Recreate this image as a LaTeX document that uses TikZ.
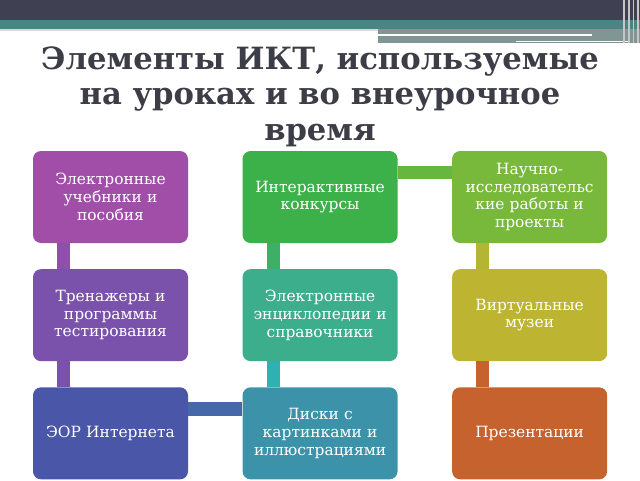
\documentclass[tikz,border=0pt]{standalone}
\usepackage{fontspec}
\setmainfont{DejaVu Serif}
\usepackage{tikz}
\usetikzlibrary{positioning}

\definecolor{hdrdark}{HTML}{3F4052}
\definecolor{hdrteal}{HTML}{4B8483}
\definecolor{hdrgray}{HTML}{819595}
\definecolor{titlegray}{HTML}{3C3D47}
\definecolor{cPurple}{HTML}{A04EA8}
\definecolor{cViolet}{HTML}{7B52AB}
\definecolor{cBlue}{HTML}{4A56A8}
\definecolor{cGreen}{HTML}{3CB14A}
\definecolor{cSea}{HTML}{3DAE8C}
\definecolor{cTeal}{HTML}{3C93A9}
\definecolor{cLime}{HTML}{78B83B}
\definecolor{cOlive}{HTML}{BDB532}
\definecolor{cOrange}{HTML}{C6622D}

\begin{document}
\begin{tikzpicture}[
            box/.style = {rounded corners = 0.2cm, % card corners
                minimum width = 3.875cm, minimum height = 2.3cm,
                text width = 3.55cm, align = center, text = white,
                font = \fontsize{11}{12.6}\selectfont},
            link/.style = {line width = 0.33cm}, % thick bar between cards
            node distance = 0.64cm and 1.35cm
        ]

        \useasboundingbox (0,0) rectangle (16,12);

        % header strip
        \fill[hdrdark] (0,12) rectangle (16,11.5);
        \fill[hdrteal] (0,11.5) rectangle (16,11.275);
        \fill[gray!30] (0,11.275) rectangle (9.45,11.22);
        \fill[hdrgray] (9.45,11.275) rectangle (16,10.925);
        \draw[white, line width = 0.9pt] (9.45,11.125) -- (14.8,11.125);
        \draw[white, line width = 0.9pt] (12.9,10.96) -- (15.7,10.96);
        \foreach \xs in {15.6, 15.72, 15.84, 15.95}
            \draw[gray!45, line width = 1.2pt] (\xs,12) -- (\xs,10.925);

        \node[font = \fontsize{21.8}{25.5}\selectfont\bfseries, text = titlegray,
              align = center] (title) at (8,9.58)
            {Элементы ИКТ, используемые\\на уроках и во внеурочное\\время};

        % cards
        \node[box, fill = cPurple] (uchebn) at (2.7625,7.075)
            {Электронные\\учебники и\\пособия};
        \node[box, fill = cGreen] (konkurs) [right = of uchebn]
            {Интерактивные\\конкурсы};
        \node[box, fill = cLime] (nauch) [right = of konkurs]
            {Научно-\\исследовательс\\кие работы и\\проекты};

        \node[box, fill = cViolet] (tren) [below = of uchebn]
            {Тренажеры и\\программы\\тестирования};
        \node[box, fill = cSea] (encikl) [below = of konkurs]
            {Электронные\\энциклопедии и\\справочники};
        \node[box, fill = cOlive] (muzei) [below = of nauch]
            {Виртуальные\\музеи};

        \node[box, fill = cBlue] (eor) [below = of tren]
            {ЭОР Интернета};
        \node[box, fill = cTeal] (diski) [below = of encikl]
            {Диски с\\картинками и\\иллюстрациями};
        \node[box, fill = cOrange] (prez) [below = of muzei]
            {Презентации};

        % bars
        \draw[link, color = cPurple!55!cViolet] ([xshift = 0.775cm]uchebn.south west) -- ([xshift = 0.775cm]tren.north west);
        \draw[link, color = cViolet] ([xshift = 0.775cm]tren.south west) -- ([xshift = 0.775cm]eor.north west);
        \draw[link, color = cGreen!60!cSea] ([xshift = 0.775cm]konkurs.south west) -- ([xshift = 0.775cm]encikl.north west);
        \draw[link, color = cSea!40!cTeal!80!cyan] ([xshift = 0.775cm]encikl.south west) -- ([xshift = 0.775cm]diski.north west);
        \draw[link, color = cOlive!85!cLime] ([xshift = 0.775cm]nauch.south west) -- ([xshift = 0.775cm]muzei.north west);
        \draw[link, color = cOrange] ([xshift = 0.775cm]muzei.south west) -- ([xshift = 0.775cm]prez.north west);
        \draw[link, color = cLime!70!cGreen] ([yshift = -0.55cm]konkurs.north east) -- ([yshift = -0.55cm]nauch.north west);
        \draw[link, color = cBlue!70!cTeal] ([yshift = -0.55cm]eor.north east) -- ([yshift = -0.55cm]diski.north west);

  \end{tikzpicture}
\end{document}
